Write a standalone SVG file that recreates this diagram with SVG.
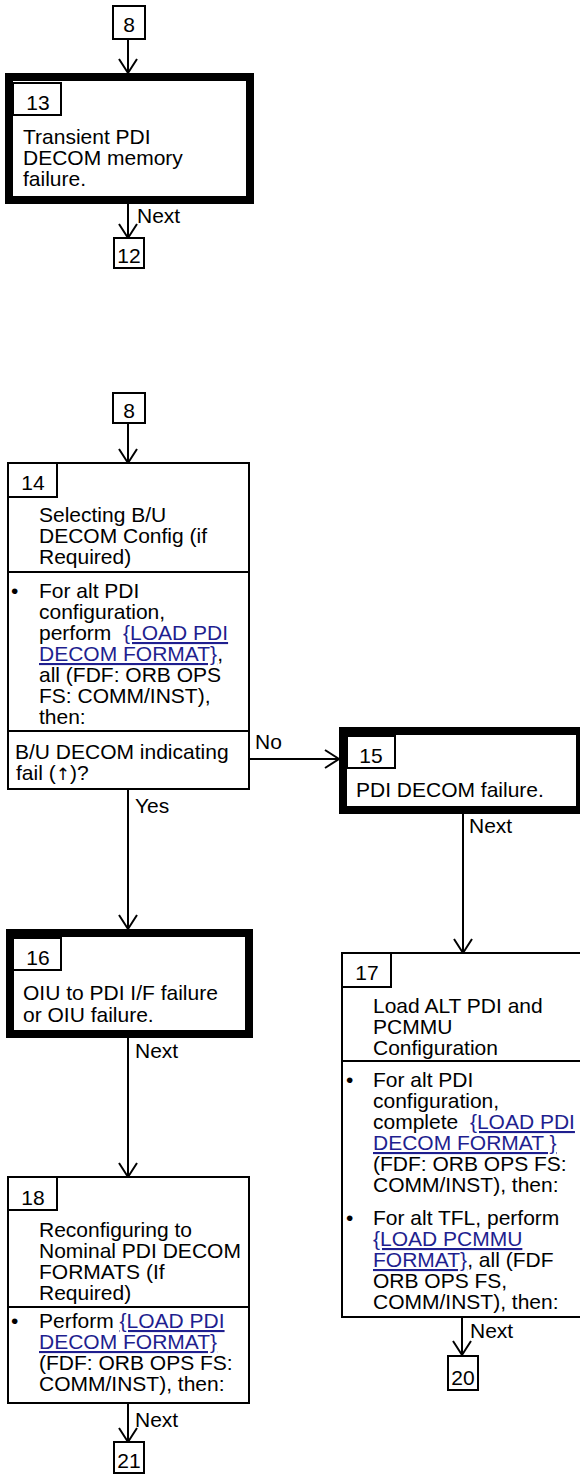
<svg xmlns="http://www.w3.org/2000/svg" width="580" height="1474" viewBox="0 0 580 1474">
<style>
text{font-family:"Liberation Sans",Arial,sans-serif;font-size:21px;fill:#000}
.box{fill:#fff;stroke:#000;stroke-width:2}
.thick{fill:#fff;stroke:#000;stroke-width:8}
.div{stroke:#000;stroke-width:2;fill:none}
.con{stroke:#000;stroke-width:2;fill:none}
.lnk{fill:#1f1f8f;text-decoration:underline}
.c{text-anchor:middle}
.sym{font-family:"DejaVu Sans",sans-serif;font-size:17px;fill:#000}
</style>
<defs>
<marker id="arr" viewBox="0 0 20 20" refX="17" refY="10" markerWidth="20" markerHeight="20" markerUnits="userSpaceOnUse" orient="auto">
<path d="M3,1 L17,10 L3,19" fill="none" stroke="#000" stroke-width="2"/>
</marker>
</defs>
<rect width="580" height="1474" fill="#fff"/>

<g id="connectors">
<line class="con" x1="128" y1="39" x2="128" y2="73" marker-end="url(#arr)"/>
<line class="con" x1="128" y1="204" x2="128" y2="238" marker-end="url(#arr)"/>
<text x="137" y="223">Next</text>
<line class="con" x1="128" y1="423" x2="128" y2="463" marker-end="url(#arr)"/>
<line class="con" x1="249" y1="759" x2="339" y2="759" marker-end="url(#arr)"/>
<text x="255" y="749">No</text>
<line class="con" x1="128" y1="789" x2="128" y2="929" marker-end="url(#arr)"/>
<text x="135" y="813">Yes</text>
<line class="con" x1="463" y1="814" x2="463" y2="953" marker-end="url(#arr)"/>
<text x="469" y="833">Next</text>
<line class="con" x1="128" y1="1038" x2="128" y2="1177" marker-end="url(#arr)"/>
<text x="135" y="1058">Next</text>
<line class="con" x1="462" y1="1317" x2="462" y2="1355" marker-end="url(#arr)"/>
<text x="470" y="1338">Next</text>
<line class="con" x1="128" y1="1403" x2="128" y2="1442" marker-end="url(#arr)"/>
<text x="135" y="1427">Next</text>
</g>

<g id="ref8a">
<rect class="box" x="113" y="6" width="32" height="33"/>
<text class="c" x="129" y="32">8</text>
</g>

<g id="n13">
<rect class="thick" x="9" y="77" width="241" height="123"/>
<rect class="box" x="13" y="83" width="48" height="32"/>
<text class="c" x="38" y="110">13</text>
<text x="23" y="144">Transient PDI</text>
<text x="23" y="165">DECOM memory</text>
<text x="23" y="186">failure.</text>
</g>

<g id="ref12">
<rect class="box" x="114" y="238" width="30" height="30"/>
<text class="c" x="129" y="263">12</text>
</g>

<g id="ref8b">
<rect class="box" x="113" y="393" width="32" height="30"/>
<text class="c" x="129" y="418">8</text>
</g>

<g id="n14">
<rect class="box" x="8" y="463" width="241" height="326"/>
<rect class="box" x="8" y="463" width="49" height="34"/>
<text class="c" x="33" y="490">14</text>
<text x="39" y="522">Selecting B/U</text>
<text x="39" y="543">DECOM Config (if</text>
<text x="39" y="564">Required)</text>
<line class="div" x1="8" y1="572" x2="249" y2="572"/>
<text x="11" y="598">•</text>
<text x="39" y="598">For alt PDI</text>
<text x="39" y="619">configuration,</text>
<text x="39" y="640" xml:space="preserve">perform  <tspan class="lnk">{LOAD PDI</tspan></text>
<text x="39" y="661"><tspan class="lnk">DECOM FORMAT}</tspan>,</text>
<text x="39" y="682">all (FDF: ORB OPS</text>
<text x="39" y="703">FS: COMM/INST),</text>
<text x="39" y="724">then:</text>
<line class="div" x1="8" y1="731" x2="249" y2="731"/>
<text x="15" y="759">B/U DECOM indicating</text>
<text x="16" y="780">fail (<tspan class="sym">↑</tspan>)?</text>
</g>

<g id="n15">
<rect class="thick" x="343" y="731" width="237" height="79"/>
<rect class="box" x="347" y="736" width="48" height="32"/>
<text class="c" x="371" y="763">15</text>
<text x="356" y="797">PDI DECOM failure.</text>
</g>

<g id="n16">
<rect class="thick" x="10" y="933" width="239" height="101"/>
<rect class="box" x="13" y="938" width="48" height="32"/>
<text class="c" x="38" y="965">16</text>
<text x="23" y="1000">OIU to PDI I/F failure</text>
<text x="23" y="1022">or OIU failure.</text>
</g>

<g id="n17">
<rect class="box" x="342" y="953" width="250" height="364"/>
<rect class="box" x="342" y="953" width="49" height="34"/>
<text class="c" x="367" y="980">17</text>
<text x="373" y="1013">Load ALT PDI and</text>
<text x="373" y="1034">PCMMU</text>
<text x="373" y="1055">Configuration</text>
<line class="div" x1="342" y1="1061" x2="592" y2="1061"/>
<text x="346" y="1087">•</text>
<text x="373" y="1087">For alt PDI</text>
<text x="373" y="1108">configuration,</text>
<text x="373" y="1129" xml:space="preserve">complete  <tspan class="lnk">{LOAD PDI</tspan></text>
<text x="373" y="1150"><tspan class="lnk">DECOM FORMAT }</tspan></text>
<text x="373" y="1171">(FDF: ORB OPS FS:</text>
<text x="373" y="1192">COMM/INST), then:</text>
<text x="346" y="1225">•</text>
<text x="373" y="1225">For alt TFL, perform</text>
<text x="373" y="1246"><tspan class="lnk">{LOAD PCMMU</tspan></text>
<text x="373" y="1267"><tspan class="lnk">FORMAT}</tspan>, all (FDF</text>
<text x="373" y="1288">ORB OPS FS,</text>
<text x="373" y="1309">COMM/INST), then:</text>
</g>

<g id="ref20">
<rect class="box" x="448" y="1356" width="30" height="34"/>
<text class="c" x="463" y="1385">20</text>
</g>

<g id="n18">
<rect class="box" x="8" y="1177" width="241" height="226"/>
<rect class="box" x="8" y="1177" width="49" height="33"/>
<text class="c" x="33" y="1205">18</text>
<text x="39" y="1237">Reconfiguring to</text>
<text x="39" y="1258">Nominal PDI DECOM</text>
<text x="39" y="1279">FORMATS (If</text>
<text x="39" y="1300">Required)</text>
<line class="div" x1="8" y1="1307" x2="249" y2="1307"/>
<text x="11" y="1328">•</text>
<text x="39" y="1328" xml:space="preserve">Perform <tspan class="lnk">{LOAD PDI</tspan></text>
<text x="39" y="1349"><tspan class="lnk">DECOM FORMAT}</tspan></text>
<text x="39" y="1370">(FDF: ORB OPS FS:</text>
<text x="39" y="1391">COMM/INST), then:</text>
</g>

<g id="ref21">
<rect class="box" x="114" y="1442" width="30" height="31"/>
<text class="c" x="129" y="1468">21</text>
</g>
</svg>
